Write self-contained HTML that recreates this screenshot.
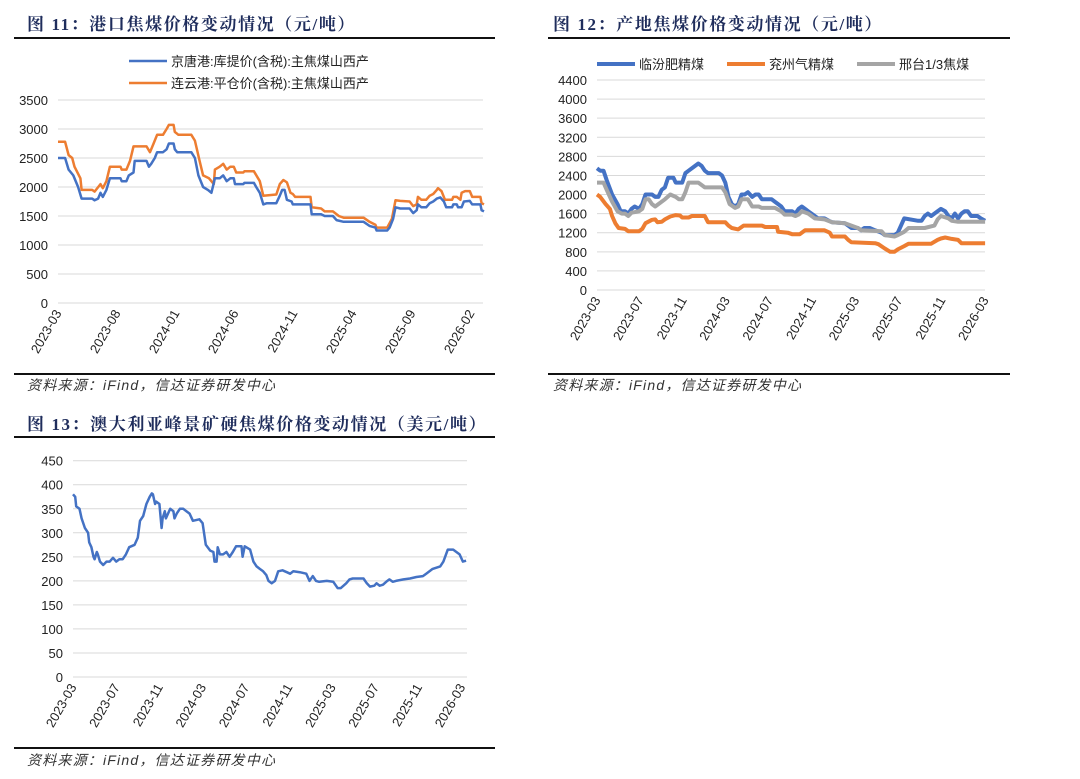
<!DOCTYPE html>
<html><head><meta charset="utf-8">
<style>
body{margin:0;width:1080px;height:779px;background:#fff;overflow:hidden;font-family:"Liberation Sans","Noto Sans CJK SC",sans-serif;}
svg{position:absolute;left:0;top:0}
.title{font-family:"Liberation Serif","Noto Serif CJK SC",serif;font-weight:bold;font-size:17px;letter-spacing:1.6px;fill:#1f2d5c}
.src{font-family:"Liberation Sans","Noto Sans CJK SC",sans-serif;font-style:italic;font-size:14px;letter-spacing:1.2px;fill:#333}
.tick{font-size:13px;fill:#222}
.leg{font-size:13px;fill:#222}
</style></head><body>
<svg id="s" width="1080" height="779" xmlns="http://www.w3.org/2000/svg">
<text class="title" x="27" y="30">图 11：港口焦煤价格变动情况（元/吨）</text>
<rect x="14" y="37" width="481" height="2" fill="#111"/>
<text class="title" x="553" y="30">图 12：产地焦煤价格变动情况（元/吨）</text>
<rect x="548" y="37" width="462" height="2" fill="#111"/>
<rect x="14" y="373" width="481" height="2" fill="#111"/>
<rect x="548" y="373" width="462" height="2" fill="#111"/>
<text class="src" x="27" y="390">资料来源：iFind，信达证券研发中心</text>
<text class="src" x="553" y="390">资料来源：iFind，信达证券研发中心</text>
<text class="title" x="27" y="430">图 13：澳大利亚峰景矿硬焦煤价格变动情况（美元/吨）</text>
<rect x="14" y="436" width="481" height="2" fill="#111"/>
<rect x="14" y="747" width="481" height="2" fill="#111"/>
<text class="src" x="27" y="765">资料来源：iFind，信达证券研发中心</text>
</svg>
<script>
// ---- Chart 11 data (months since 2023-03) ----
const c1BlueT=[0,0.6,0.9,1.3,1.7,2.0,2.9,3.1,3.4,3.6,3.8,4.1,4.4,5.3,5.4,5.8,6.0,6.4,6.5,7.5,7.7,7.9,8.2,8.4,8.9,9.2,9.4,9.8,9.9,10.1,11.3,11.6,11.9,12.3,12.7,13.0,13.3,13.7,14.0,14.3,14.6,14.9,15.0,15.7,15.8,16.6,16.8,17.1,17.4,17.7,18.5,18.8,19.0,19.2,19.4,19.8,19.9,21.4,21.5,22.3,22.6,23.3,23.6,24.2,25.9,26.4,26.9,27.0,27.9,28.1,28.4,28.6,29.0,29.8,30.1,30.4,30.5,30.8,31.2,31.5,31.8,32.1,32.4,32.7,32.9,33.4,33.5,33.8,33.9,34.2,34.4,34.9,35.1,35.8,35.9,36.1];
const c1BlueV=[2500,2500,2300,2200,2000,1800,1800,1770,1800,1900,1830,1950,2150,2150,2100,2100,2200,2250,2450,2450,2350,2400,2500,2600,2600,2650,2750,2750,2650,2600,2600,2500,2200,2000,1950,1900,2150,2150,2200,2100,2150,2150,2050,2050,2070,2070,2000,1900,1700,1720,1720,1850,1950,1950,1780,1750,1700,1700,1530,1530,1500,1500,1430,1400,1400,1330,1300,1250,1250,1300,1450,1650,1630,1630,1550,1600,1700,1650,1650,1720,1750,1800,1820,1750,1650,1650,1700,1700,1650,1650,1750,1760,1700,1700,1600,1580];
const c1OrT=[0,0.6,0.9,1.2,1.4,1.9,2.0,2.9,3.1,3.6,3.8,4.1,4.4,5.3,5.4,5.8,6.1,6.4,7.5,7.8,8.1,8.4,8.9,9.2,9.4,9.8,9.9,10.2,11.3,11.6,12.0,12.3,12.8,13.2,13.3,13.7,14.0,14.3,14.6,14.9,15.1,15.7,15.8,16.6,17.1,17.4,18.5,18.8,19.1,19.4,19.7,19.9,20.1,21.4,21.5,22.3,22.6,23.3,23.8,24.2,25.9,26.4,26.9,27.0,27.9,28.3,28.6,29.0,29.8,30.1,30.4,30.5,30.8,31.2,31.5,31.8,32.1,32.2,32.5,32.8,33.4,33.5,33.8,34.1,34.2,34.5,34.9,35.1,35.8,35.9,36.1];
const c1OrV=[2780,2780,2550,2500,2350,2150,1950,1950,1920,2050,1980,2100,2350,2350,2300,2300,2450,2700,2700,2600,2750,2900,2900,3000,3070,3070,2950,2900,2900,2800,2450,2200,2150,2050,2300,2350,2400,2300,2350,2350,2250,2250,2270,2270,2100,1850,1870,2050,2120,2080,1900,1880,1830,1830,1650,1630,1580,1580,1500,1470,1470,1400,1350,1300,1300,1450,1770,1760,1750,1670,1700,1830,1780,1780,1850,1880,1950,1980,1930,1780,1780,1830,1830,1780,1900,1930,1930,1830,1830,1720,1700];
const c1Ticks=[0,500,1000,1500,2000,2500,3000,3500];
const c1Labels=["2023-03","2023-08","2024-01","2024-06","2024-11","2025-04","2025-09","2026-02"];
// ---- Chart 12 data ----
const c2BlueT=[0,0.3,0.6,0.9,1.4,1.9,2.2,2.6,2.9,3.2,3.5,3.9,4.2,4.5,5.1,5.4,5.7,6.0,6.3,6.6,7.1,7.3,7.9,8.2,8.5,8.8,9.1,9.4,9.7,10.0,10.3,11.3,11.6,11.9,12.2,12.5,12.8,13.1,13.4,13.7,14.0,14.4,14.7,15.0,15.3,16.2,16.5,16.8,17.1,17.4,18.1,18.4,18.7,19.0,19.3,19.6,19.9,20.2,20.5,21.1,21.5,21.8,23.0,23.3,23.6,24.2,24.5,24.8,25.3,25.8,26.4,26.7,27.6,27.9,28.2,28.5,29.8,30.1,30.4,30.7,31.0,31.3,31.6,31.9,32.3,32.6,32.9,33.2,33.5,33.8,34.1,34.4,34.7,35.3,35.6,36.0];
const c2BlueV=[2550,2500,2500,2300,2000,1800,1650,1650,1600,1700,1750,1700,1800,2000,2000,1950,1950,2100,2150,2350,2350,2250,2250,2450,2500,2550,2600,2650,2600,2500,2450,2450,2400,2250,1950,1800,1750,1800,2000,2000,2050,1950,2000,2000,1900,1900,1850,1800,1750,1650,1650,1600,1700,1750,1700,1650,1600,1550,1500,1500,1450,1420,1400,1350,1300,1300,1250,1300,1300,1250,1200,1150,1150,1200,1350,1500,1450,1450,1550,1600,1550,1600,1650,1700,1650,1550,1500,1600,1500,1600,1650,1650,1550,1550,1500,1450];
const c2OrT=[0,0.3,0.8,1.2,1.4,1.7,2.0,2.6,2.9,3.9,4.2,4.5,5.1,5.4,5.6,6.0,6.3,6.8,7.3,7.7,7.9,8.5,8.8,10.0,10.3,11.9,12.2,12.5,13.1,13.6,15.3,15.6,16.7,16.8,17.7,18.1,18.8,19.3,21.1,21.6,21.8,23.0,23.3,23.6,25.8,26.1,26.7,27.2,27.6,27.9,28.5,28.9,31.0,31.6,31.9,32.3,32.9,33.5,33.8,36.0];
const c2OrV=[2000,1950,1800,1700,1550,1400,1300,1280,1230,1230,1280,1400,1470,1480,1420,1430,1480,1540,1570,1560,1520,1520,1550,1550,1420,1420,1350,1300,1270,1350,1350,1320,1320,1220,1200,1170,1170,1250,1250,1200,1120,1120,1050,1000,980,960,870,800,800,850,920,970,970,1050,1080,1100,1070,1050,980,980];
const c2GrT=[0,0.6,0.9,1.4,1.9,2.3,2.6,2.9,3.2,3.9,4.2,4.5,4.8,5.1,5.4,5.7,6.3,6.8,7.3,7.6,7.9,8.2,8.5,9.4,9.7,10.0,11.6,11.9,12.3,12.8,13.1,13.4,14.0,14.4,15.0,15.3,16.5,17.1,17.4,18.1,18.4,18.7,19.0,19.6,20.2,21.1,21.8,23.0,23.6,24.2,24.5,26.4,26.7,27.6,27.9,28.5,28.9,29.8,30.4,31.3,31.6,31.9,32.6,32.9,33.5,36.0];
const c2GrV=[2250,2250,2100,1850,1650,1600,1600,1550,1620,1650,1700,1900,1900,1800,1750,1800,1900,2000,1950,1900,1900,2050,2250,2250,2200,2150,2150,2050,1800,1720,1750,1900,1900,1750,1750,1720,1720,1650,1580,1580,1550,1580,1650,1600,1500,1480,1420,1400,1350,1300,1250,1230,1150,1120,1150,1220,1300,1300,1300,1350,1480,1550,1500,1450,1430,1430];
const c2Ticks=[0,400,800,1200,1600,2000,2400,2800,3200,3600,4000,4400];
const c2Labels=["2023-03","2023-07","2023-11","2024-03","2024-07","2024-11","2025-03","2025-07","2025-11","2026-03"];
// ---- Chart 13 data ----
const c3T=[0,0.2,0.3,0.6,0.8,1.1,1.4,1.5,1.7,1.9,2.0,2.2,2.3,2.5,2.8,3.1,3.4,3.7,4.0,4.3,4.6,4.9,5.2,5.7,6.0,6.2,6.5,6.8,7.1,7.3,7.4,7.6,7.7,8.0,8.2,8.3,8.5,8.6,9.0,9.3,9.4,9.6,9.9,10.2,10.5,10.8,11.1,11.7,12.0,12.3,12.7,13.0,13.1,13.3,13.4,13.6,13.9,14.2,14.5,14.8,15.1,15.6,15.7,15.9,16.4,16.7,17.0,17.3,17.6,17.9,18.1,18.4,18.7,19.0,19.4,19.8,20.1,20.4,21.0,21.6,21.9,22.2,22.5,22.8,23.5,24.1,24.5,24.8,25.3,25.6,25.9,26.9,27.2,27.5,27.9,28.1,28.4,28.7,29.0,29.3,29.6,29.9,30.6,31.2,31.8,32.4,32.7,33.3,34.0,34.3,34.7,35.2,35.8,36.1,36.4];
const c3V=[380,375,355,350,330,310,300,280,270,250,245,260,255,240,233,240,240,248,240,245,245,255,270,275,290,325,335,360,375,382,380,360,365,360,310,330,345,330,350,345,330,340,350,350,345,340,325,328,320,275,263,260,240,240,270,255,255,260,250,260,272,272,250,272,265,240,230,225,220,212,200,195,200,220,222,218,215,220,218,215,200,210,200,198,200,198,185,185,195,203,205,205,195,188,190,195,190,192,198,203,198,200,203,205,208,210,215,225,230,240,265,265,255,240,242];
const c3Ticks=[0,50,100,150,200,250,300,350,400,450];
const c3Labels=c2Labels;

const svg=document.getElementById('s');
const NS="http://www.w3.org/2000/svg";
function mk(tag,attrs,parent){const e=document.createElementNS(NS,tag);for(const k in attrs)e.setAttribute(k,attrs[k]);(parent||svg).appendChild(e);return e;}

function drawChart(cfg){
  const g=mk('g',{});
  
  
  const xS=t=>cfg.x0+t*cfg.pxm;
  const yS=v=>cfg.y0-(v/cfg.ymax)*(cfg.y0-cfg.y1);
  cfg.ticks.forEach(v=>{
    const l=mk('line',{x1:cfg.x0,x2:cfg.x2,y1:yS(v),y2:yS(v),stroke:'#d9d9d9','stroke-width':1},g);
    
    
    const t=mk('text',{x:cfg.x0-10,y:yS(v)+5,'text-anchor':'end',class:'tick'},g);
    t.textContent=v;
    
    
  });
  cfg.labels.forEach((s,i)=>{
    const x=xS(i*cfg.lstep)+4, y=cfg.y0+10;
    const t=mk('text',{x:x,y:y,'text-anchor':'end',class:'tick',transform:`rotate(-60 ${x} ${y})`},g);
    t.textContent=s;
    
    
  });
  cfg.series.forEach(s=>{
    const pts=s.t.map((t,i)=>xS(t).toFixed(1)+','+yS(s.v[i]).toFixed(1)).join(' ');
    const p=mk('polyline',{points:pts,fill:'none',stroke:s.color,'stroke-width':cfg.sw,'stroke-linejoin':'round'},g);
    
    
  });
}
drawChart({name:'chart11-plot',x0:58,x2:483,pxm:11.8,y0:303,y1:100,ymax:3500,ticks:c1Ticks,labels:c1Labels,lstep:5,sw:2.5,
  series:[{name:'orange-line-lianyungang',t:c1OrT,v:c1OrV,color:'#ed7d31'},{name:'blue-line-jingtang',t:c1BlueT,v:c1BlueV,color:'#4472c4'}]});
drawChart({name:'chart12-plot',x0:597,x2:985,pxm:10.78,y0:290,y1:80,ymax:4400,ticks:c2Ticks,labels:c2Labels,lstep:4,sw:4,
  series:[{name:'orange-line-yanzhou',t:c2OrT,v:c2OrV,color:'#ed7d31'},{name:'blue-line-linfen',t:c2BlueT,v:c2BlueV,color:'#4472c4'},{name:'gray-line-xingtai',t:c2GrT,v:c2GrV,color:'#a5a5a5'}]});
drawChart({name:'chart13-plot',x0:73,x2:467,pxm:10.8,y0:677,y1:460.7,ymax:450,ticks:c3Ticks,labels:c3Labels,lstep:4,sw:2.5,
  series:[{name:'blue-line-peak-downs',t:c3T,v:c3V,color:'#4472c4'}]});

function legend(x,y,color,sw,len,text,name){
  const g=mk('g',{});
  
  
  mk('line',{x1:x,x2:x+len,y1:y,y2:y,stroke:color,'stroke-width':sw},g);
  const t=mk('text',{x:x+len+4,y:y+5,class:'leg'},g);
  t.textContent=text;
}
legend(129,61,'#4472c4',2.5,38,'京唐港:库提价(含税):主焦煤山西产','legend-entry-jingtang');
legend(129,83,'#ed7d31',2.5,38,'连云港:平仓价(含税):主焦煤山西产','legend-entry-lianyungang');
legend(597,64,'#4472c4',4,38,'临汾肥精煤','legend-entry-linfen');
legend(727,64,'#ed7d31',4,38,'兖州气精煤','legend-entry-yanzhou');
legend(857,64,'#a5a5a5',4,38,'邢台1/3焦煤','legend-entry-xingtai');
</script>
</body></html>
